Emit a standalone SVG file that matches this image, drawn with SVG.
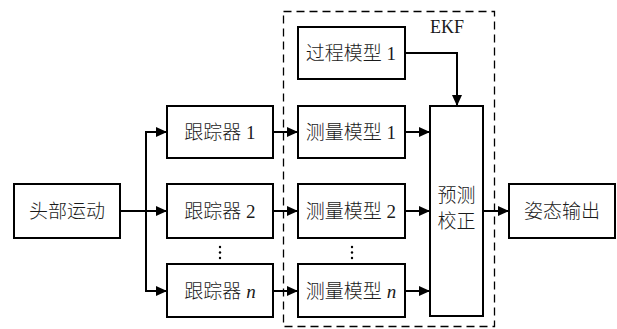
<svg xmlns="http://www.w3.org/2000/svg" width="617" height="329" viewBox="0 0 617 329">
<style>
.box{fill:#fff;stroke:#000;stroke-width:2}
.t{font-family:"Liberation Serif","Noto Sans CJK SC",serif;font-size:19px;font-weight:300;fill:#1a1a1a;text-anchor:middle}
.c{fill:none;stroke:#000;stroke-width:2}
.dash{fill:none;stroke:#000;stroke-width:1.3;stroke-dasharray:8 5}
</style>
<defs>
<marker id="ah" markerUnits="userSpaceOnUse" markerWidth="12" markerHeight="10" refX="11" refY="5" orient="auto">
<path d="M0,0 L11,5 L0,10 Z" fill="#000"/>
</marker>
</defs>
<rect class="dash" x="283.5" y="11.5" width="211" height="315"/>
<text class="t" x="447" y="33" style="font-size:18px">EKF</text>
<g id="head"><rect class="box" x="14" y="184" width="106" height="54"/><text class="t" x="67" y="218">头部运动</text></g>
<g id="tracker1"><rect class="box" x="167" y="106" width="106" height="52"/><text class="t" x="220" y="139">跟踪器 1</text></g>
<g id="tracker2"><rect class="box" x="167" y="184" width="106" height="54"/><text class="t" x="220" y="218">跟踪器 2</text></g>
<g id="trackern"><rect class="box" x="167" y="264" width="106" height="53"/><text class="t" x="220" y="298">跟踪器 <tspan font-style="italic">n</tspan></text></g>
<g id="process1"><rect class="box" x="298" y="27" width="107" height="52"/><text class="t" x="351" y="60">过程模型 1</text></g>
<g id="meas1"><rect class="box" x="298" y="106" width="107" height="52"/><text class="t" x="351" y="139">测量模型 1</text></g>
<g id="meas2"><rect class="box" x="298" y="184" width="107" height="54"/><text class="t" x="351" y="218">测量模型 2</text></g>
<g id="measn"><rect class="box" x="298" y="264" width="107" height="53"/><text class="t" x="351" y="298">测量模型 <tspan font-style="italic">n</tspan></text></g>
<g id="predict"><rect class="box" x="430" y="106" width="53" height="210"/><text class="t" x="456.5" y="202">预测</text><text class="t" x="456.5" y="228">校正</text></g>
<g id="output"><rect class="box" x="509" y="184" width="106" height="54"/><text class="t" x="562" y="218">姿态输出</text></g>
<g id="dots" fill="#000">
<circle cx="220" cy="247" r="1.2"/><circle cx="220" cy="252.5" r="1.2"/><circle cx="220" cy="258" r="1.2"/>
<circle cx="352" cy="247" r="1.2"/><circle cx="352" cy="252.5" r="1.2"/><circle cx="352" cy="258" r="1.2"/>
</g>
<g id="connectors">
<path class="c" d="M120,211 H146"/>
<path class="c" d="M146,132 V291"/>
<path class="c" d="M145,132 H167" marker-end="url(#ah)"/>
<path class="c" d="M146,211 H167" marker-end="url(#ah)"/>
<path class="c" d="M145,291 H167" marker-end="url(#ah)"/>
<path class="c" d="M273,132 H298" marker-end="url(#ah)"/>
<path class="c" d="M273,211 H298" marker-end="url(#ah)"/>
<path class="c" d="M273,291 H298" marker-end="url(#ah)"/>
<path class="c" d="M405,132 H430" marker-end="url(#ah)"/>
<path class="c" d="M405,211 H430" marker-end="url(#ah)"/>
<path class="c" d="M405,291 H430" marker-end="url(#ah)"/>
<path class="c" d="M405,53 H457 V106" marker-end="url(#ah)"/>
<path class="c" d="M483,211 H509" marker-end="url(#ah)"/>
</g>
</svg>
